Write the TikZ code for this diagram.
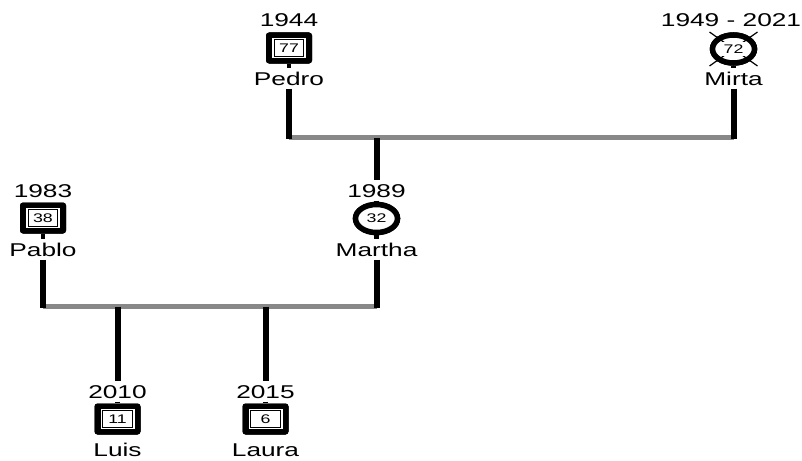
\documentclass[tikz,border=0pt]{standalone}
\usepackage{fontspec}
\setmainfont{Liberation Sans}[FakeStretch=1.42]
\usetikzlibrary{shapes.geometric}
\definecolor{bargray}{RGB}{136,136,136}
\tikzset{
  lbl/.style={font=\fontsize{18.5}{20}\selectfont, inner xsep=0pt, inner ysep=3.5pt,
    text height=13.2pt, text depth=0pt, anchor=base},
  sqr/.style={fill=black, rounded corners=3pt, minimum width=46pt, minimum height=31pt, inner sep=0pt},
  sqrin/.style={fill=white, minimum width=34pt, minimum height=20.5pt, inner sep=0pt},
  agebox/.style={draw=black, line width=1pt, fill=white, minimum width=29.5pt, minimum height=17pt,
    inner sep=0pt, font=\fontsize{12.5}{13}\selectfont},
  circ/.style={ellipse, draw=black, line width=5.5pt, fill=white, minimum width=42pt, minimum height=28pt,
    inner sep=0pt, font=\fontsize{12.5}{13}\selectfont},
  vline/.style={line width=6pt, black},
  stem/.style={line width=4.5pt, black},
  bar/.style={line width=5pt, bargray},
  xline/.style={line width=1.2pt, black},
}
\begin{document}
\begin{tikzpicture}[x=1pt, y=-1pt]
\useasboundingbox (0,0) rectangle (802,460);
% bar coordinates
\coordinate (tL) at (289,137.5);
\coordinate (tR) at (734,137.5);
\coordinate (tM) at (376.5,137.5);
\coordinate (bL) at (43,306.5);
\coordinate (bR) at (376.5,306.5);
\coordinate (b1) at (117.5,306.5);
\coordinate (b2) at (265.5,306.5);
\draw[bar] (tL) -- (tR);
\draw[bar] (bL) -- (bR);

% Pedro
\node[lbl] (pedroyear) at (289,26.5) {1944};
\node[sqr] (pedro) at (289,48) {};
\node[lbl] (pedroname) at (289,85) {Pedro};
% Mirta
\node[lbl] (mirtayear) at (731,26.5) {1949 - 2021};
\node[circ] (mirta) at (733.5,49) {};
\node[lbl] (mirtaname) at (733.5,85) {Mirta};
% Martha
\node[lbl] (marthayear) at (376.5,197) {1989};
\node[circ] (martha) at (376.5,218.5) {};
\node[lbl] (marthaname) at (376.5,256) {Martha};
% Pablo
\node[lbl] (pabloyear) at (43,197) {1983};
\node[sqr] (pablo) at (43,218) {};
\node[lbl] (pabloname) at (43,256) {Pablo};
% Luis
\node[lbl] (luisyear) at (117.5,398) {2010};
\node[sqr] (luis) at (117.5,419) {};
\node[lbl] (luisname) at (117.5,456.5) {Luis};
% Laura
\node[lbl] (laurayear) at (265.5,398) {2015};
\node[sqr] (laura) at (265.5,419) {};
\node[lbl] (lauraname) at (265.5,456.5) {Laura};

% connectors
\draw[vline] (pedroname.south) -- (pedroname.south |- tL) -- ++(0,1.5);
\draw[vline] (mirtaname.south) -- (mirtaname.south |- tR) -- ++(0,1.5);
\draw[vline] (tM) -- (marthayear.north);
\draw[vline] (pabloname.south) -- (pabloname.south |- bL) -- ++(0,1.5);
\draw[vline] (marthaname.south) -- (marthaname.south |- bR) -- ++(0,1.5);
\draw[vline] (b1) -- (luisyear.north);
\draw[vline] (b2) -- (laurayear.north);
% short stems
\draw[stem] (pedro.south) -- (pedroname.north);
\draw[stem] (mirta.south) -- (mirtaname.north);
\draw[stem] (marthayear.south) -- (martha.north);
\draw[stem] (martha.south) -- (marthaname.north);
\draw[stem] (pablo.south) -- (pabloname.north);
\draw[stem] (luisyear.south) -- (luis.north);
\draw[stem] (laurayear.south) -- (laura.north);

% redraw shapes on top of stems
\node[sqr] at (pedro) {};
\node[sqrin] at (pedro) {};
\node[agebox] (pedroage) at (pedro) {77};
\node[sqr] at (pablo) {};
\node[sqrin] at (pablo) {};
\node[agebox] (pabloage) at (pablo) {38};
\node[sqr] at (luis) {};
\node[sqrin] at (luis) {};
\node[agebox] (luisage) at (luis) {11};
\node[sqr] at (laura) {};
\node[sqrin] at (laura) {};
\node[agebox] (lauraage) at (laura) {6};
\node[circ] at (martha) {32};
\node[circ] at (mirta) {};
\draw[xline] (mirta.center) ++(-24,-17) -- ++(48,34);
\draw[xline] (mirta.center) ++(24,-17) -- ++(-48,34);
\node[font=\fontsize{12.5}{13}\selectfont, fill=white, inner xsep=3pt, inner ysep=2.5pt] (mirtaage) at (mirta) {72};
\end{tikzpicture}
\end{document}
